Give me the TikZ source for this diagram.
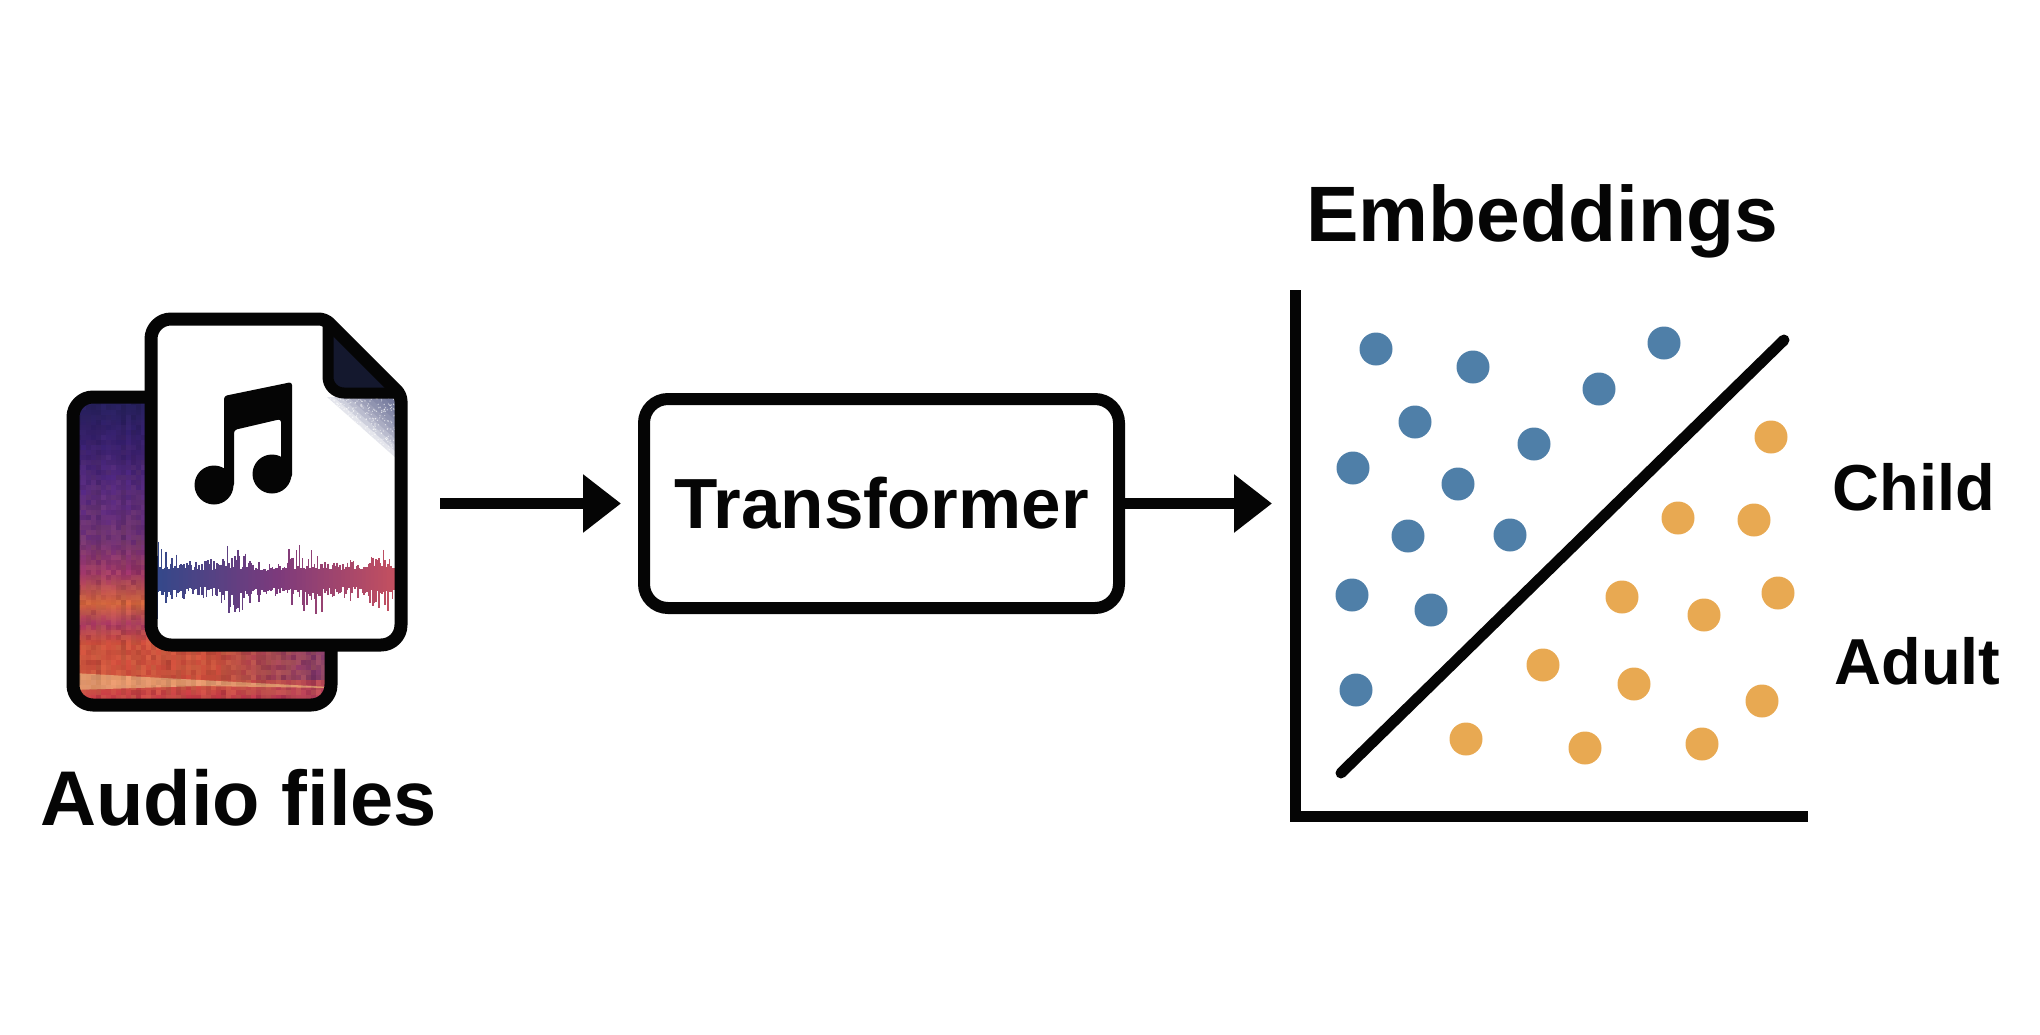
\documentclass[tikz,border=0pt]{standalone}
\usepackage{fontspec}
\setmainfont{Liberation Sans}
\usetikzlibrary{arrows.meta,fadings}
\definecolor{inkblack}{HTML}{050505}
\definecolor{dotblue}{HTML}{4F7FA8}
\definecolor{dotorange}{HTML}{E8A952}
\definecolor{foldnavy}{HTML}{14182E}
\definecolor{cornergrey}{HTML}{4F5684}
\definecolor{waveleft}{HTML}{34488A}
\definecolor{wavemid}{HTML}{7C3A7C}
\definecolor{waveright}{HTML}{C4505F}
\definecolor{specA}{HTML}{2A2364}
\definecolor{specB}{HTML}{3A2278}
\definecolor{specC}{HTML}{582A88}
\definecolor{specD}{HTML}{70307F}
\definecolor{specE}{HTML}{A43570}
\definecolor{specF}{HTML}{E0683F}
\definecolor{specG}{HTML}{B0386A}
\definecolor{specH}{HTML}{D9503F}
\definecolor{specI}{HTML}{F59A5A}
\definecolor{specJ}{HTML}{D43A4C}
\pgfdeclareverticalshading{spectro}{100bp}{color(0bp)=(specJ); color(25.3bp)=(specJ); color(28.2bp)=(specH); color(34.5bp)=(specH); color(37.8bp)=(specG); color(41.2bp)=(specF); color(46.3bp)=(specE); color(51.9bp)=(specD); color(60.3bp)=(specC); color(68.75bp)=(specB); color(75bp)=(specA); color(100bp)=(specA)}
\tikzset{
  outline/.style={draw=inkblack,line width=6.5pt,line join=round},
  flow/.style={draw=inkblack,line width=5.5pt,-{Triangle[length=19pt,width=28pt]}},
  blockbox/.style={draw=inkblack,line width=6pt,rounded corners=12pt,minimum width=237.5pt,minimum height=104.5pt,inner sep=0pt,text=inkblack,font=\fontsize{35.5}{35.5}\selectfont\bfseries},
  title/.style={anchor=base,inner sep=0pt,text=inkblack,font=\fontsize{39.3}{39.3}\selectfont\bfseries},
  classlabel/.style={anchor=base west,inner sep=0pt,text=inkblack,font=\fontsize{32.5}{32.5}\selectfont\bfseries}
}
\begin{document}
\begin{tikzpicture}[x=0.5pt,y=-0.5pt]
  \useasboundingbox (0,0) rectangle (2040,1034);
  \pgfmathsetseed{4711}
  % back page with the spectrogram
  \begin{scope}
    \clip[rounded corners=10pt] (73,397) rectangle (331,705);
    \shade[shading=spectro] (73,403) rectangle (331,699);
    \fill[specJ] (73,697) rectangle (331,705);
    \fill[specD,path fading=west,opacity=.9] (215,640) rectangle (331,680);
    \fill[specG,path fading=west,opacity=.8] (215,680) rectangle (331,705);
    \fill[specI!75!white,opacity=.85] (73,673) -- (200,680) -- (331,687) -- (331,688) -- (200,686) -- (73,690) -- cycle;
    \foreach \cx in {76,81,...,330}{
      \pgfmathsetmacro\colshade{.10*rnd}
      \foreach \cy in {400,405,...,700}{
        \pgfmathsetmacro\opdark{int(100*(\colshade+.10*rnd))/100}
        \pgfmathsetmacro\ophot{int(100*.30*rnd*(\cy-400)/300)/100}
        \fill[black,opacity=\opdark] (\cx,\cy) rectangle ++(5,5);
        \fill[specI,opacity=\ophot] (\cx,\cy) rectangle ++(5,5);
      }
    }
  \end{scope}
  \draw[outline,rounded corners=10pt] (73,397) rectangle (331,705);
  % front page
  \fill[white,rounded corners=10pt] (151,645) -- (151,319) -- (325,319) -- (401,395) -- (401,645) -- cycle;
  \foreach \t in {1,.9,...,.1}
    \fill[cornergrey,opacity=.15] ({397-70*\t},397) -- (397,397) -- (397,{397+62*\t}) -- cycle;
  \begin{scope}
    \clip (327,397) -- (397,397) -- (397,459) -- cycle;
    \foreach \i in {1,...,400}{
      \pgfmathsetmacro\sx{327+rnd*70}
      \pgfmathsetmacro\sy{397+rnd*62}
      \fill[white,opacity=.6] (\sx,\sy) circle (.7);
    }
  \end{scope}
  \fill[foldnavy] (325,319) -- (401,395) -- (345,393) -- (328,378) -- cycle;
  \draw[outline,line width=5.5pt,rounded corners=8pt] (328,325) -- (328,393) -- (396,393);
  % wave on the front page
  \foreach \wx in {157,158.5,...,395}{
    \pgfmathtruncatemacro\wmix{(\wx-157)/2.38}
    \pgfmathsetmacro\wenv{.7+.3*sin(\wx*5)}
    \pgfmathsetmacro\wup{6+3*rnd+(3+32*rnd*rnd)*\wenv}
    \pgfmathsetmacro\wdown{6+3*rnd+(3+34*rnd*rnd)*\wenv}
    \ifnum\wmix<50
      \pgfmathtruncatemacro\wpart{\wmix*2}
      \colorlet{wavenow}{wavemid!\wpart!waveleft}
    \else
      \pgfmathtruncatemacro\wpart{(\wmix-50)*2}
      \colorlet{wavenow}{waveright!\wpart!wavemid}
    \fi
    \draw[wavenow,line width=.6pt] (\wx,579-\wup) -- (\wx,579+\wdown);
  }
  % note
  \fill[inkblack,rounded corners=1.5pt] (224,396) -- (292,382) -- (292,478) -- (281,478) -- (281,419) -- (234,430) -- (234,487) -- (224,487) -- cycle;
  \fill[inkblack] (214,485) circle (19.5) (272,474) circle (19.5);
  \draw[outline,rounded corners=10pt] (151,645) -- (151,319) [rounded corners=3pt] -- (325,319) -- (401,395) [rounded corners=10pt] -- (401,645) -- cycle;
  \node[title,font=\fontsize{38.8}{38.8}\selectfont\bfseries] (audio) at (238.7,825) {Audio files};
  % the block and its connectors
  \node[blockbox] (encoder) at (881.5,503.5) {Transformer};
  \coordinate (feed) at (440,503.5);
  \coordinate (plotin) at (1272,503.5);
  \draw[flow,shorten >=8.5pt] (feed) -- (encoder.west);
  \draw[flow] (encoder.east) -- (plotin);
  % embedding plot
  \node[title] (embed) at (1542,241) {Embeddings};
  \coordinate (ytop) at (1295,290);
  \coordinate (origin) at (1295,816);
  \coordinate (xend) at (1808,816);
  \draw[inkblack,line width=5.5pt,line join=miter] (ytop) -- (origin) -- (xend);
  \coordinate (splitA) at (1341,773);
  \coordinate (splitB) at (1784,340);
  \draw[inkblack,line width=5.5pt,line cap=round] (splitA) -- (splitB);
  \foreach \px/\py in {1376/349,1473/367,1664/343,1599/389,1415/422,1534/444,1353/468,1458/484,1408/536,1510/535,1352/595,1431/610,1356/690}
    \fill[dotblue] (\px,\py) circle (16.5);
  \foreach \px/\py in {1771/437,1678/518,1754/520,1622/597,1704/615,1778/593,1543/665,1634/684,1762/701,1466/739,1585/748,1702/744}
    \fill[dotorange] (\px,\py) circle (16.5);
  \node[classlabel] (child) at (1832,510) {Child};
  \node[classlabel] (adult) at (1834,684) {Adult};
\end{tikzpicture}
\end{document}
